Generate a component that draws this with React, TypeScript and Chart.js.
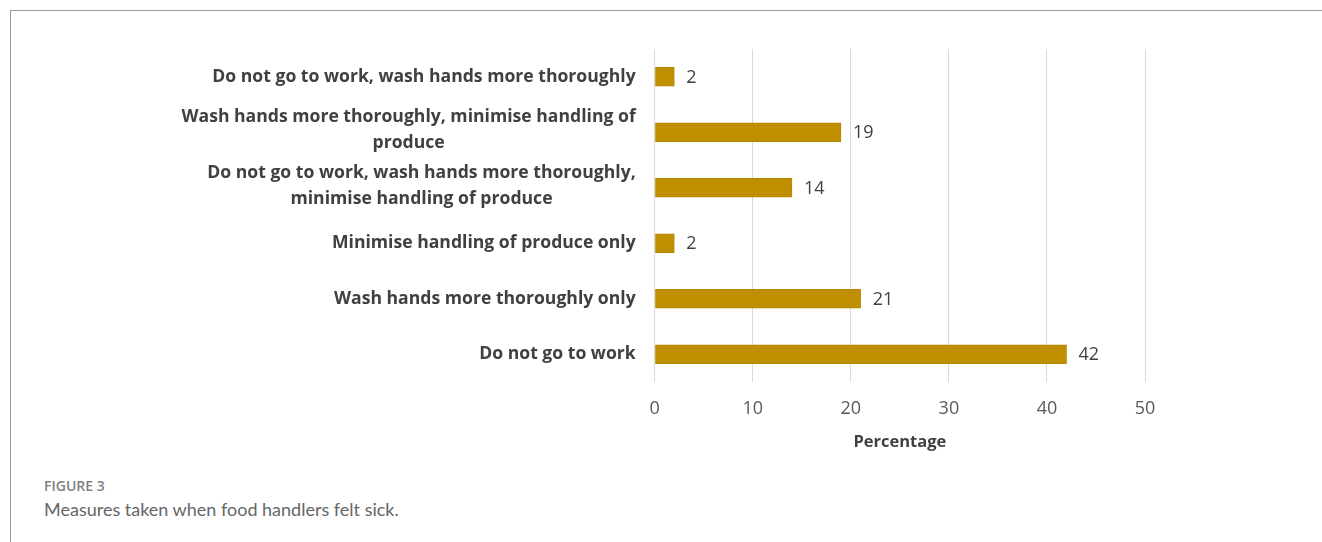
import React, { useEffect, useRef } from "react";
import { Chart, registerables } from "chart.js";

Chart.register(...registerables);

const categories: string[][] = [
  ["Do not go to work, wash hands more thoroughly"],
  ["Wash hands more thoroughly, minimise handling of", "produce"],
  ["Do not go to work, wash hands more thoroughly,", "minimise handling of produce"],
  ["Minimise handling of produce only"],
  ["Wash hands more thoroughly only"],
  ["Do not go to work"],
];
const values: number[] = [2, 19, 14, 2, 21, 42];
const xTicks: number[] = [0, 10, 20, 30, 40, 50];
const axisTitle = "Percentage";
const captionLabel = "FIGURE 3";
const captionText = "Measures taken when food handlers felt sick.";

const CAT_FONT = "700 17.6px 'Open Sans'";
const LINE_H = 26;

const labelPlugin = {
  id: "customLabels",
  afterDraw(chart: any) {
    const ctx = chart.ctx;
    const yScale = chart.scales.y;
    const area = chart.chartArea;
    ctx.save();
    ctx.font = CAT_FONT;
    ctx.fillStyle = "#404040";
    ctx.textBaseline = "middle";
    ctx.textAlign = "center";
    const rightEdge = area.left - 19;
    categories.forEach((lines, i) => {
      const cy = yScale.getPixelForValue(i);
      const maxW = Math.max(...lines.map((l) => ctx.measureText(l).width));
      const cx = rightEdge - maxW / 2;
      const startY = cy - ((lines.length - 1) * LINE_H) / 2 - (lines.length > 1 ? 2 : 0);
      lines.forEach((l, j) => ctx.fillText(l, cx, startY + j * LINE_H));
    });
    ctx.font = "18px 'Open Sans'";
    ctx.fillStyle = "#404040";
    ctx.textAlign = "left";
    const meta = chart.getDatasetMeta(0);
    meta.data.forEach((bar: any, i: number) => {
      ctx.fillText(String(values[i]), bar.x + 12, bar.y + 1);
    });
    ctx.restore();
  },
};

function BarChart() {
  const ref = useRef<HTMLCanvasElement | null>(null);
  useEffect(() => {
    if (!ref.current) return;
    const chart = new Chart(ref.current, {
      type: "bar",
      data: {
        labels: categories.map((c) => c.join(" ")),
        datasets: [
          {
            data: values,
            backgroundColor: "#BF8F00",
            borderColor: "#B38600",
            borderWidth: 1,
            barThickness: 19,
          },
        ],
      },
      options: {
        indexAxis: "y",
        animation: false,
        responsive: false,
        maintainAspectRatio: false,
        layout: { padding: { left: 0, top: 38, right: 166, bottom: 0 } },
        plugins: { legend: { display: false }, tooltip: { enabled: false } },
        scales: {
          x: {
            min: 0,
            max: 50,
            afterBuildTicks: (scale: any) => {
              scale.ticks = xTicks.map((v) => ({ value: v }));
            },
            afterFit: (scale: any) => {
              scale.height = 88;
            },
            grid: { color: "#D9D9D9", lineWidth: 1, drawTicks: false },
            border: { display: false },
            ticks: {
              padding: 16,
              color: "#595959",
              font: { family: "'Open Sans'", size: 18 },
            },
            title: {
              display: true,
              text: axisTitle,
              color: "#404040",
              font: { family: "'Open Sans'", size: 16.5, weight: "700" },
              padding: { top: 0, bottom: 18 },
            },
          },
          y: {
            afterFit: (scale: any) => {
              scale.width = 643.7;
            },
            grid: { display: false },
            border: { display: false },
            ticks: { display: false },
          },
        },
      },
      plugins: [labelPlugin],
    });
    return () => chart.destroy();
  }, []);
  return (
    <canvas
      ref={ref}
      width={1300}
      height={459}
      style={{ position: "absolute", left: 11, top: 11, width: 1300, height: 459 }}
    />
  );
}

export default function App() {
  return (
    <div style={{ position: "fixed", left: 0, top: 0, width: 1322, height: 542, overflow: "hidden", background: "#fff" }}>
      <div
        style={{
          position: "absolute",
          left: 10,
          top: 10,
          width: 1320,
          height: 540,
          borderTop: "1px solid #999",
          borderLeft: "1px solid #999",
        }}
      />
      <BarChart />
      <div
        style={{
          position: "absolute",
          left: 44,
          top: 478,
          fontFamily: "'Open Sans', sans-serif",
          fontSize: 14,
          fontWeight: 600,
          color: "#7f7f7f",
          lineHeight: "16px",
          whiteSpace: "nowrap",
        }}
      >
        {captionLabel}
      </div>
      <div
        style={{
          position: "absolute",
          left: 44,
          top: 498,
          fontFamily: "'Lato', sans-serif",
          fontSize: 18,
          color: "#666",
          lineHeight: "22px",
          whiteSpace: "nowrap",
        }}
      >
        {captionText}
      </div>
    </div>
  );
}
